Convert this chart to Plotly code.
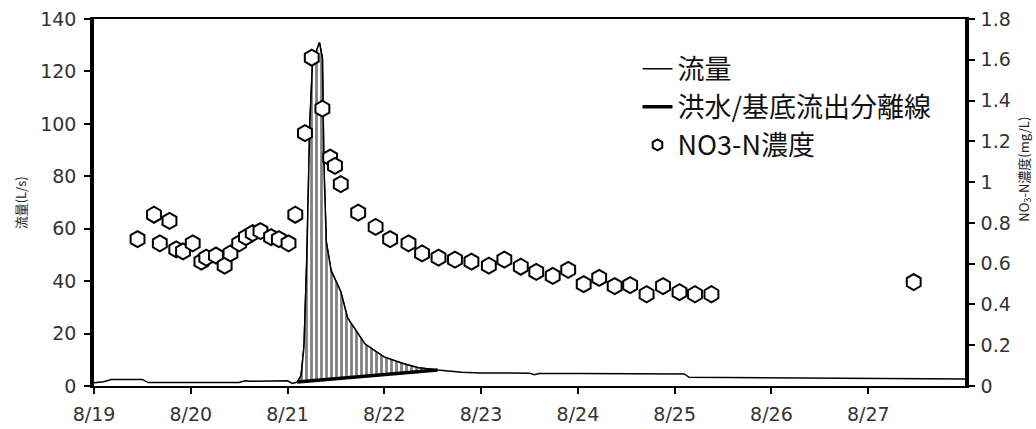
import plotly.graph_objects as go

# ---- data ----
x_tick_pos = [0, 1, 2, 3, 4, 5, 6, 7, 8]
x_tick_labels = ["8/19", "8/20", "8/21", "8/22", "8/23", "8/24", "8/25", "8/26", "8/27"]

# flow (L/s), x = days since 8/19 0:00
flow_day = [0.0, 0.1, 0.18, 0.5, 0.56, 1.0, 1.5, 1.56, 1.62, 2.0, 2.05, 2.10, 2.14, 2.17, 2.20,
            2.23, 2.26, 2.30, 2.33, 2.36, 2.375, 2.40, 2.45, 2.55, 2.62, 2.8, 3.0, 3.2, 3.35,
            3.55, 3.8, 4.0, 4.5, 4.55, 4.6, 5.0, 5.5, 6.1, 6.15, 7.0, 8.0, 8.45, 9.0]
flow_val = [1.2, 1.6, 2.5, 2.5, 1.3, 1.3, 1.3, 2.0, 1.8, 2.0, 1.0, 1.5, 4, 15, 50,
            100, 125, 128, 131, 125, 85, 55, 44, 36, 26, 16, 11, 8.5, 7.0,
            6.1, 5.2, 5.0, 4.9, 4.3, 4.8, 4.8, 4.7, 4.6, 3.3, 3.2, 3.1, 3.0, 2.7]

# storm / base flow separation line
sep_day = [2.10, 3.55]
sep_val = [1.5, 6.1]

# NO3-N concentration (mg/L)
no3_day = [0.45, 0.62, 0.68, 0.78, 0.85, 0.92, 1.02, 1.11, 1.16, 1.26, 1.35, 1.41, 1.50, 1.57,
           1.64, 1.72, 1.83, 1.91, 2.01, 2.08, 2.18, 2.25, 2.36, 2.44, 2.49, 2.55, 2.73, 2.91,
           3.06, 3.25, 3.39, 3.56, 3.73, 3.90, 4.08, 4.24, 4.41, 4.57, 4.74, 4.90, 5.06, 5.22,
           5.38, 5.54, 5.71, 5.88, 6.05, 6.21, 6.38, 8.47]
no3_val = [0.72, 0.84, 0.70, 0.81, 0.67, 0.66, 0.70, 0.61, 0.63, 0.64, 0.59, 0.65, 0.70, 0.73,
           0.75, 0.76, 0.73, 0.72, 0.70, 0.84, 1.24, 1.61, 1.36, 1.12, 1.08, 0.99, 0.85, 0.78,
           0.72, 0.70, 0.65, 0.63, 0.62, 0.61, 0.59, 0.62, 0.585, 0.56, 0.54, 0.57, 0.50, 0.53,
           0.49, 0.495, 0.45, 0.49, 0.46, 0.45, 0.45, 0.51]

FONT = "Noto Sans CJK JP"
TICKFONT = dict(size=19, family="DejaVu Sans", color="#333")

fig = go.Figure()

# flow line
fig.add_trace(go.Scatter(x=flow_day, y=flow_val, mode="lines", name="流量",
                         legendgroup="a", legendrank=1,
                         line=dict(color="black", width=1.5), yaxis="y"))

# separation line (base for hatch fill)
fig.add_trace(go.Scatter(x=sep_day, y=sep_val, mode="lines", name="洪水/基底流出分離線",
                         legendgroup="b", legendrank=2,
                         line=dict(color="black", width=3.5), yaxis="y"))

# hatched storm-flow region
ev = [(d, v) for d, v in zip(flow_day, flow_val) if sep_day[0] <= d <= sep_day[-1]]
fig.add_trace(go.Scatter(x=[d for d, _ in ev], y=[v for _, v in ev], mode="lines",
                         line=dict(color="black", width=1.5), fill="tonexty",
                         fillcolor="rgba(0,0,0,0)",
                         fillpattern=dict(shape="|", fgcolor="black", bgcolor="white",
                                          size=5, solidity=0.55),
                         showlegend=False, yaxis="y", hoverinfo="skip"))

# NO3-N concentration
fig.add_trace(go.Scatter(x=no3_day, y=no3_val, mode="markers", name="NO3-N濃度",
                         showlegend=False,
                         marker=dict(symbol="hexagon", size=16, color="white",
                                     line=dict(color="black", width=2)),
                         yaxis="y2"))
# legend entry for NO3-N (smaller symbol as in the original legend)
fig.add_trace(go.Scatter(x=[None], y=[None], mode="markers", name="NO3-N濃度",
                         legendgroup="c", legendrank=3,
                         marker=dict(symbol="hexagon", size=11, color="white",
                                     line=dict(color="black", width=2)),
                         yaxis="y2"))

fig.update_layout(
    width=1036, height=429,
    margin=dict(l=94, r=71, t=19, b=43, autoexpand=False),
    plot_bgcolor="white", paper_bgcolor="white",
    font=dict(family=FONT, color="#222"),
    xaxis=dict(range=[0, 9], tickvals=x_tick_pos, ticktext=x_tick_labels, automargin=False,
               showgrid=False, zeroline=False, showline=True, linecolor="black",
               linewidth=1.5, mirror=True, ticks="outside", ticklen=6, tickwidth=1.5,
               tickcolor="black", tickfont=TICKFONT, ticklabelstandoff=4),
    yaxis=dict(range=[0, 140], dtick=20, showgrid=False, zeroline=False, showline=True,
               automargin=False,
               linecolor="black", linewidth=3.5, ticks="outside", ticklen=6, tickwidth=1.5,
               tickcolor="black", tickfont=TICKFONT, ticklabelstandoff=4),
    yaxis2=dict(range=[0, 1.8], dtick=0.2, overlaying="y", side="right", showgrid=False,
                automargin=False,
                zeroline=False, showline=True, linecolor="black", linewidth=3.5,
                ticks="outside", ticklen=6, tickwidth=1.5, tickcolor="black",
                tickfont=TICKFONT, tickformat="~g", ticklabelstandoff=2),
    legend=dict(x=0.624, y=0.93, xanchor="left", yanchor="top", traceorder="normal",
                font=dict(size=27, family=FONT, color="#111"),
                bgcolor="rgba(0,0,0,0)", tracegroupgap=0),
    showlegend=True,
    annotations=[
        dict(text="流量(L/s)", xref="paper", yref="paper", x=-0.084, y=0.5,
             xanchor="center", yanchor="middle", textangle=-90, showarrow=False,
             font=dict(size=13, family=FONT, color="#222")),
        dict(text="NO<sub>3</sub>-N濃度(mg/L)", xref="paper", yref="paper", x=1.068, y=0.59,
             xanchor="center", yanchor="middle", textangle=-90, showarrow=False,
             font=dict(size=13, family=FONT, color="#222")),
    ],
)

fig.write_html("out.html", config={"displayModeBar": False},
               post_script="document.body.style.margin='0';document.body.style.overflow='hidden';")
